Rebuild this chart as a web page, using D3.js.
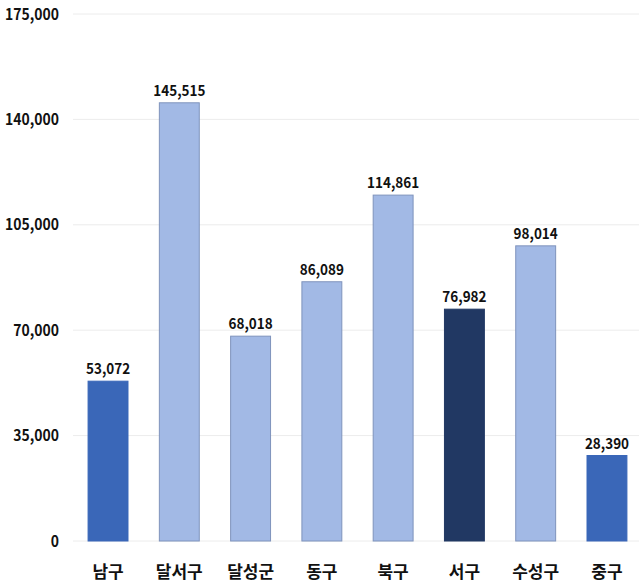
<!DOCTYPE html>
<html><head><meta charset="utf-8">
<script src="https://cdn.jsdelivr.net/npm/d3@7"></script>
<style>body{margin:0;background:#fff}svg{display:block}text{font-family:"Noto Sans CJK KR","Noto Sans",sans-serif;font-weight:700;fill:#111}</style>
</head><body><svg id="c" width="639" height="584"></svg>
<script>
const categories = ["남구","달서구","달성군","동구","북구","서구","수성구","중구"];
const values = [53072,145515,68018,86089,114861,76982,98014,28390];
const colorGroups = ["mid","light","light","light","light","dark","light","mid"];
const yTicks = [0,35000,70000,105000,140000,175000];
const palette = {mid:"#3A67B8", light:"#A2B9E5", dark:"#213863"};
const stroke = {mid:"#3A67B8", light:"#7F93BC", dark:"#213863"};

const svg = d3.select("#c");
const x = d3.scaleBand().domain(categories).range([72.4, 642.6]).paddingInner(0.44).paddingOuter(0.22);
const y = d3.scaleLinear().domain([0,175000]).range([541,14]);
const fmt = d3.format(",");

svg.append("g").selectAll("line").data(yTicks).join("line")
  .attr("x1",73).attr("x2",639).attr("y1",d=>y(d)).attr("y2",d=>y(d))
  .attr("stroke","#ececec").attr("stroke-width",1);

svg.append("g").selectAll("text").data(yTicks).join("text")
  .attr("transform",d=>`translate(59,${y(d)}) scale(0.9,1)`).attr("dy","0.36em").attr("text-anchor","end")
  .attr("font-size",15.5).text(d=>fmt(d));

svg.append("g").selectAll("rect").data(values).join("rect")
  .attr("x",(d,i)=>x(categories[i])).attr("width",x.bandwidth())
  .attr("y",d=>y(d)).attr("height",d=>y(0)-y(d))
  .attr("fill",(d,i)=>palette[colorGroups[i]])
  .attr("stroke",(d,i)=>stroke[colorGroups[i]]).attr("stroke-width",1);

svg.append("g").selectAll("text").data(values).join("text")
  .attr("transform",(d,i)=>`translate(${x(categories[i])+x.bandwidth()/2},${y(d)-7}) scale(0.9,1)`)
  .attr("text-anchor","middle").attr("font-size",15).text(d=>fmt(d));

svg.append("g").selectAll("text").data(categories).join("text")
  .attr("x",d=>x(d)+x.bandwidth()/2).attr("y",572).attr("dy","0.36em")
  .attr("text-anchor","middle").attr("font-size",17).text(d=>d);
</script></body></html>
